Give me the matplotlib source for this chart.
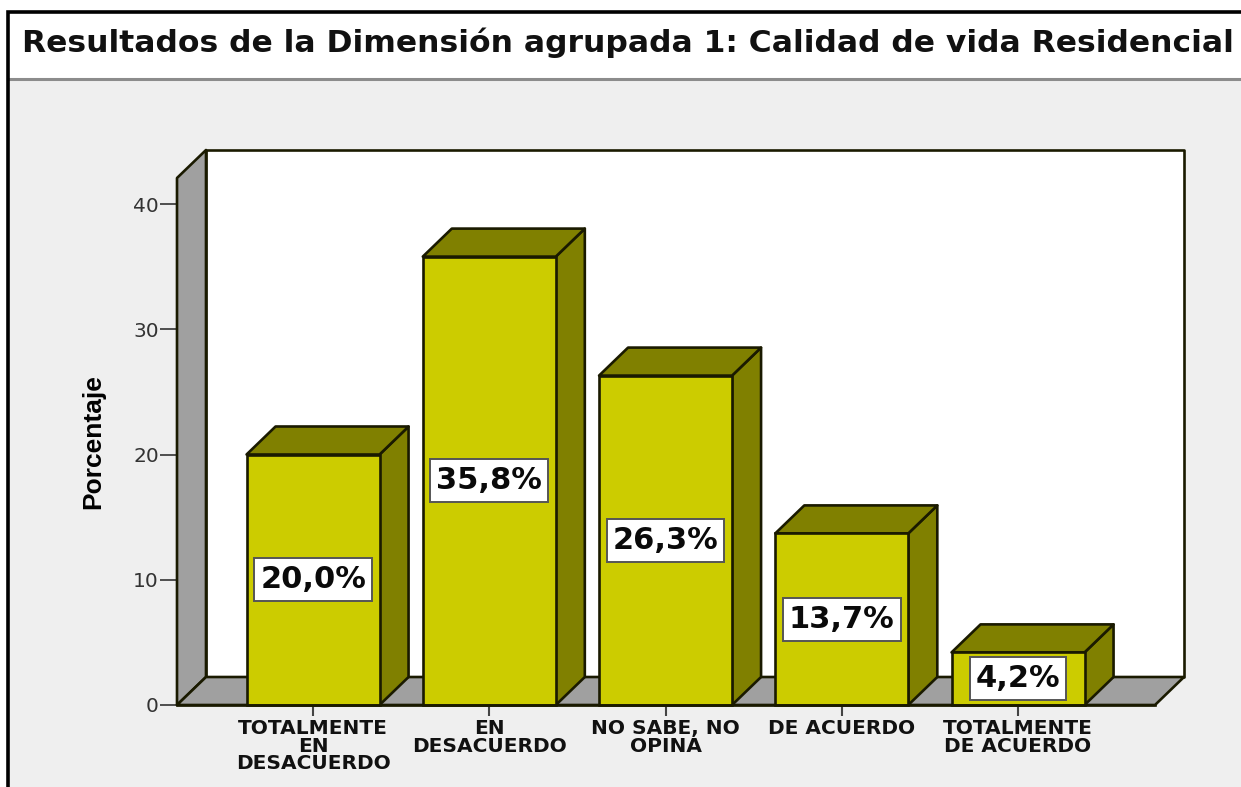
import matplotlib
matplotlib.use('Agg')
import matplotlib.pyplot as plt
from matplotlib.patches import Polygon, Rectangle

categorias = ['TOTALMENTE\nEN\nDESACUERDO', 'EN\nDESACUERDO', 'NO SABE, NO\nOPINA',
              'DE ACUERDO', 'TOTALMENTE\nDE ACUERDO']
porcentajes = [20.0, 35.8, 26.3, 13.7, 4.2]
etiquetas = ['20,0%', '35,8%', '26,3%', '13,7%', '4,2%']
ticks_y = [0, 10, 20, 30, 40]
titulo = 'Resultados de la Dimensión agrupada 1: Calidad de vida Residencial'

W, H = 1241, 787
fig = plt.figure(figsize=(W / 100, H / 100), dpi=100, facecolor='white')

# fondo y marco, en pixeles
bg = fig.add_axes([0, 0, 1, 1])
bg.set_xlim(0, W)
bg.set_ylim(H, 0)
bg.axis('off')
bg.add_patch(Rectangle((8, 80), W, H, fc='#EFEFEF', ec='none'))
bg.plot([8, W], [79, 79], color='#8C8C8C', lw=2.2)
bg.plot([8, 8, W], [H, 12, 12], color='black', lw=2.6, solid_joinstyle='miter')
bg.text(22, 52, titulo, fontsize=22.55, fontweight='bold', family='DejaVu Sans',
        va='baseline', ha='left', color='#111111')

# ejes: izquierda 177, derecha 1155, base 705, 12.525 px por unidad
ax = fig.add_axes([177 / W, 1 - 705 / H, 978 / W, 527 / H])
ax.patch.set_alpha(0)
ax.set_xlim(-0.772, 4.777)
ax.set_ylim(0, 527 / 12.525)
for s in ax.spines.values():
    s.set_visible(False)

x0, x1 = ax.get_xlim()
ytop = ax.get_ylim()[1]
dx = 29 / 176.25
dy = 28 / 12.525
ancho = 133 / 176.25
borde = '#1A1A00'
lw = 1.9

def poli(puntos, color, z):
    ax.add_patch(Polygon(puntos, closed=True, fc=color, ec=borde, lw=lw, zorder=z,
                         clip_on=False, joinstyle='round'))

# paredes y suelo
poli([(x0 + dx, dy), (x1 + dx, dy), (x1 + dx, ytop + dy), (x0 + dx, ytop + dy)], 'white', 1)
poli([(x0, 0), (x0 + dx, dy), (x0 + dx, ytop + dy), (x0, ytop)], '#A0A0A0', 2)
poli([(x0, 0), (x0 + dx, dy), (x1 + dx, dy), (x1, 0)], '#A0A0A0', 2)

renderer = fig.canvas.get_renderer()
for i, v in enumerate(porcentajes):
    iz, de = i - ancho / 2, i + ancho / 2
    ax.bar(i, v, width=ancho, color='#CCCC00', edgecolor=borde, linewidth=lw, zorder=4, clip_on=False)
    poli([(de, 0), (de + dx, dy), (de + dx, v + dy), (de, v)], '#808000', 3)
    poli([(iz, v), (iz + dx, v + dy), (de + dx, v + dy), (de, v)], '#808000', 3)
    txt = ax.text(i, v / 2, etiquetas[i], ha='center', va='center', fontsize=22, fontweight='bold',
                  color='#0A0A0A', family='DejaVu Sans', zorder=6)
    # recuadro blanco: ancho del texto + 12 px, alto fijo 43 px
    caja = txt.get_window_extent(renderer)
    bw = (caja.width + 12) / 176.25
    bh = 43 / 12.525
    ax.add_patch(Rectangle((i - bw / 2, v / 2 - bh / 2), bw, bh, fc='white', ec='#555555', lw=1.4,
                           zorder=5, clip_on=False))

ax.set_xticks(range(len(categorias)))
ax.set_xticklabels(categorias, fontsize=14.5, fontweight='bold', family='DejaVu Sans',
                   linespacing=0.92, color='#111111')
ax.set_yticks(ticks_y)
ax.set_yticklabels([str(v) for v in ticks_y], fontsize=14.5, family='DejaVu Sans', color='#333333')
ax.tick_params(axis='x', length=8, width=1.5, color='#444444', pad=2)
ax.tick_params(axis='y', length=12, width=1.2, color='#333333', pad=1)
ax.set_ylabel('Porcentaje', fontsize=19, fontweight='bold',
              family=['Liberation Sans Narrow', 'Liberation Sans'], labelpad=20)
ax.axhline(0, color=borde, lw=lw, zorder=5, clip_on=False)

fig.savefig('out.png', dpi=100)
